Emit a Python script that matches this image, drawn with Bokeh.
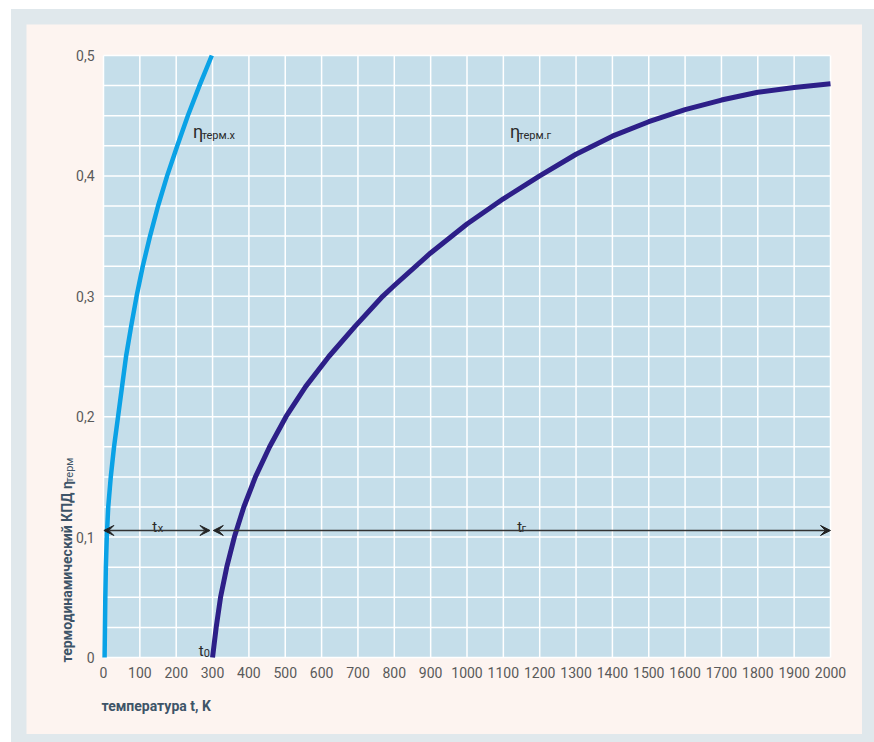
import math
from bokeh.plotting import figure
from bokeh.models import Range1d, Arrow, VeeHead
from bokeh.core.properties import value
from bokeh.layouts import column
from bokeh.embed import file_html
from bokeh.resources import INLINE

# ---- data ----
cold_eta = [0, 0.025, 0.05, 0.075, 0.1, 0.125, 0.15, 0.175, 0.2, 0.225, 0.25, 0.275,
            0.3, 0.325, 0.35, 0.375, 0.4, 0.425, 0.45, 0.475, 0.5]
cold_t = [3, 4, 5, 6.5, 9, 13, 20, 29, 40, 51, 62, 76, 91, 108, 128, 150, 175, 203,
          232, 264, 298]

hot_t = [300, 310, 322, 339, 360, 386, 418, 457, 502, 556, 620, 692, 768, 800, 900,
         1000, 1100, 1200, 1300, 1400, 1500, 1600, 1700, 1800, 1900, 2000]
hot_eta = [0, 0.025, 0.05, 0.075, 0.1, 0.125, 0.15, 0.175, 0.2, 0.225, 0.25, 0.275,
           0.3, 0.309, 0.336, 0.360, 0.381, 0.400, 0.418, 0.433, 0.445, 0.455, 0.463,
           0.4695, 0.4735, 0.4765]

arrow_eta = 0.1055
span_cold = [1, 293]      # t_x arrow
span_hot = [302, 2000]    # t_г arrow

x_ticks = [0, 100, 200, 300, 400, 500, 600, 700, 800, 900, 1000, 1100, 1200, 1300,
           1400, 1500, 1600, 1700, 1800, 1900, 2000]
x_tick_labels = [str(v) for v in x_ticks]
y_ticks = [0, 0.1, 0.2, 0.3, 0.4, 0.5]
y_tick_labels = ["0", "0,1", "0,2", "0,3", "0,4", "0,5"]
y_grid = [0, 0.025, 0.05, 0.075, 0.1, 0.125, 0.15, 0.175, 0.2, 0.225, 0.25, 0.275,
          0.3, 0.325, 0.35, 0.375, 0.4, 0.425, 0.45, 0.475, 0.5]

x_title = "температура t, K"
y_title = "термодинамический КПД η"
y_title_sub = "терм"

# ---- layout / styles ----
FIG_W, FIG_H = 836, 710
AREA_L, AREA_T, AREA_W, AREA_H = 77, 31, 727, 602   # plotting area inside the figure (px)

OUTER = "#e0e8ec"
BEIGE = "#fdf4f0"
PLOT_BG = "#c5deea"
BLUE = "#0aa2e6"
NAVY = "#2d1f88"
TXT = "#2a2a2a"
AXIS_TXT = "#3e5468"
TICK_TXT = "#5a5a5a"
TICK_FONT = "Liberation Sans Narrow, Roboto"
LAB_FONT = "Roboto"

x0, x1 = x_ticks[0], x_ticks[-1]
y0, y1 = y_grid[0], y_grid[-1]
sx = (x1 - x0) / AREA_W
sy = (y1 - y0) / AREA_H
x_range = Range1d(x0 - AREA_L * sx, x1 + (FIG_W - AREA_L - AREA_W) * sx)
y_range = Range1d(y0 - (FIG_H - AREA_T - AREA_H) * sy, y1 + AREA_T * sy)

p = figure(width=FIG_W, height=FIG_H, x_range=x_range, y_range=y_range,
           x_axis_type=None, y_axis_type=None,
           output_backend="svg", toolbar_location=None, title=None, min_border=0,
           background_fill_color=BEIGE, border_fill_color=BEIGE, outline_line_color=None)

# plotting area and grid
p.quad(left=[x0], right=[x1], bottom=[y0], top=[y1], fill_color=PLOT_BG, line_color=None)
p.segment(x0=x_ticks, y0=[y0] * len(x_ticks), x1=x_ticks, y1=[y1] * len(x_ticks),
          line_color="white", line_width=1.5)
p.segment(x0=[x0] * len(y_grid), y0=y_grid, x1=[x1] * len(y_grid), y1=y_grid,
          line_color="white", line_width=1.5)

# tick labels
p.text(x=x_ticks, y=[y0] * len(x_ticks), text=x_tick_labels, text_align="center",
       text_baseline="top", y_offset=9, text_font=value(TICK_FONT),
       text_font_size="14px", text_color=TICK_TXT)
p.text(x=[x0] * len(y_ticks), y=y_ticks, text=y_tick_labels, text_align="right",
       text_baseline="middle", x_offset=-9, text_font=value(TICK_FONT),
       text_font_size="14px", text_color=TICK_TXT)

# curves
p.line(cold_t, cold_eta, line_color=BLUE, line_width=4.5, line_join="round")
p.line(hot_t, hot_eta, line_color=NAVY, line_width=5, line_join="round")

def head():
    return VeeHead(size=10, fill_color="#222222", line_color="#222222", line_width=1)

for span in (span_cold, span_hot):
    p.add_layout(Arrow(x_start=span[0], y_start=arrow_eta, x_end=span[1], y_end=arrow_eta,
                       start=head(), end=head(), line_color="#333333", line_width=1.3))

def lab(x, y, text, size, color=TXT, style="normal", angle=0.0, xo=0, yo=0):
    p.text(x=[x], y=[y], text=[text], text_font=value(LAB_FONT), text_font_size=size,
           text_color=color, text_font_style=style, text_align="left",
           text_baseline="alphabetic", angle=angle, x_offset=xo, y_offset=yo)

# in-plot annotations
lab(134, 0.1088, "t", "15px")
lab(149, 0.1068, "х", "11px")
lab(1138, 0.1088, "t", "15px")
lab(1150, 0.1068, "г", "11px")
lab(262, 0.0052, "t", "15px")
lab(276, 0.0040, "0", "11px")
lab(246, 0.437, "η", "18px")
lab(270, 0.4336, "терм.х", "11px")
lab(1118, 0.437, "η", "18px")
lab(1142, 0.4336, "терм.г", "11px")

# axis titles
lab(x0, y0, x_title, "14px", color=AXIS_TXT, style="bold", xo=-2, yo=48)
lab(x0, y0, y_title, "14px", color=AXIS_TXT, style="bold", angle=math.pi / 2, xo=-37, yo=5)
lab(x0, y0, y_title_sub, "11px", color=AXIS_TXT, angle=math.pi / 2, xo=-34, yo=-175)

layout = column(p, styles={"background-color": OUTER,
                           "padding": "15px 12px 8px 15px",
                           "margin-left": "11px", "margin-top": "9px"})

open("out.html", "w").write(file_html(layout, INLINE))
